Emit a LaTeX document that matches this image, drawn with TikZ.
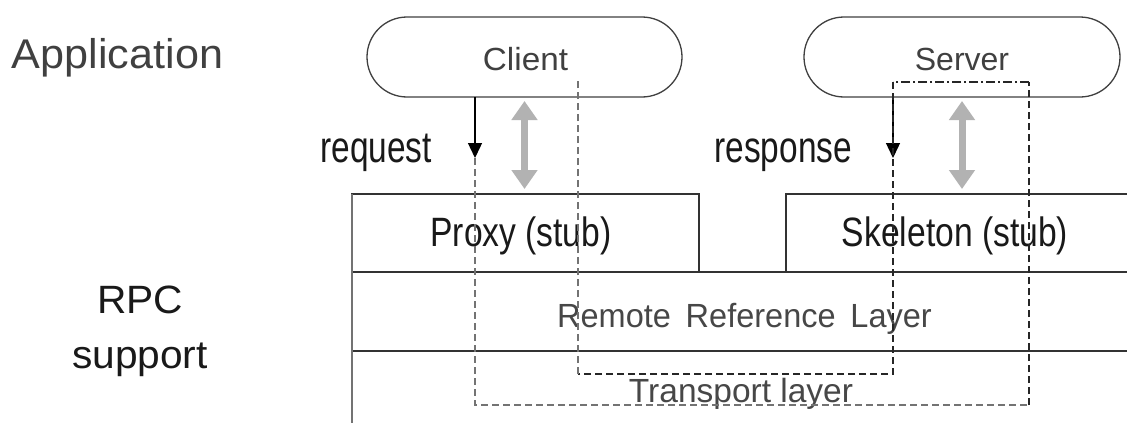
\documentclass[tikz,border=0pt]{standalone}
\usepackage{fontspec}
\setmainfont{Liberation Sans}
\usepackage{graphicx}
\usetikzlibrary{arrows.meta}

% size in pt, horizontal scale, text
\newcommand{\txt}[3]{\fontsize{#1pt}{#1pt}\selectfont\scalebox{#2}[1]{#3}}

\begin{document}
\begin{tikzpicture}[x=1pt,y=-1pt,
  lbl/.style={inner sep=0pt, outer sep=0pt, anchor=base},
  oval/.style={draw=black!75, line width=1.3pt, rounded corners=40pt,
    minimum width=#1, minimum height=80pt, inner sep=0pt, outer sep=0pt},
  layerbox/.style={inner sep=0pt, outer sep=0pt, minimum width=#1},
  rule/.style={draw=black!80, line width=1.6pt},
  callarrow/.style={draw=black, line width=1.4pt, -{Triangle[width=14pt,length=15pt]}},
  pairarrow/.style={draw=black!30, line width=7pt,
    {Triangle[width=25pt,length=19pt]}-{Triangle[width=25pt,length=19pt]}},
  route/.style={line width=1.3pt, dash pattern=on 7pt off 4pt},
  routetop/.style={line width=1.3pt, draw=black!85,
    dash pattern=on 9pt off 3pt on 2pt off 3pt},
]
\fill[white] (0,0) rectangle (1127,423);
\useasboundingbox (0,0) rectangle (1127,423);

% side captions
\node[lbl, anchor=base west, text=black!75] (app) at (12,68) {\txt{41.5}{1.04}{Application}};
\node[lbl, text=black!90] (rpc) at (140,313) {\txt{39.5}{1.03}{RPC}};
\node[lbl, text=black!90] (support) at (140,368) {\txt{39.5}{1.03}{support}};

% application processes
\node[oval=315pt] (client) at (524.5,57) {};
\node[oval=316pt] (server) at (962,57) {};
\node[lbl, text=black!75] (clientname) at (525.5,70) {\txt{32}{1.04}{Client}};
\node[lbl, text=black!75] (servername) at (962,70) {\txt{32}{1.0}{Server}};

% RPC layers
\node[rule, layerbox=347pt, minimum height=78pt] (proxy) at (525.5,233) {};
\node[layerbox=341pt, minimum height=78pt] (skeleton) at (956.5,233) {};
\node[layerbox=775pt, minimum height=79pt] (rrl) at (739.5,311.5) {};
\node[layerbox=775pt, minimum height=72pt] (transport) at (739.5,387) {};

\draw[rule] (skeleton.south west) -- (skeleton.north west) -- (skeleton.north east);
\draw[rule] (rrl.north west) -- (rrl.north east);
\draw[rule] (rrl.south west) -- (rrl.south east);
\draw[draw=black!55, line width=1.8pt] (proxy.north west) -- (transport.south west);

\node[lbl, text=black!90] (proxyname) at (521,246) {\txt{41}{0.82}{Proxy (stub)}};
\node[lbl, text=black!90] (skeletonname) at (955,246) {\txt{41}{0.82}{Skeleton (stub)}};
\node[lbl, text=black!72] (rrlname) at (744.5,327)
  {\txt{33.5}{0.97}{Remote\hspace{6pt} Reference\hspace{6pt} Layer}};
\node[lbl, text=black!72] (transportname) at (741,402) {\txt{33.5}{1.0}{Transport layer}};

% request / response calls
\coordinate (reqtip) at (475,158);
\coordinate (resptip) at (893,158);
\draw[callarrow] (client.south -| reqtip) -- (reqtip);
\draw[callarrow] (server.south -| resptip) -- (resptip);
\node[lbl, anchor=base east, text=black!90] (reqname) at (432,162) {\txt{44}{0.76}{request}};
\node[lbl, anchor=base east, text=black!90] (respname) at (852,162) {\txt{44}{0.76}{response}};

% logical exchange between application and stub
\draw[pairarrow] ([yshift=-4pt]client.south) -- ([yshift=5pt]client.south |- proxy.north);
\draw[pairarrow] ([yshift=-4pt]server.south) -- ([yshift=5pt]server.south |- skeleton.north);

% round trip of a call through the layers
\coordinate (outerSW) at (475,405);
\coordinate (outerSE) at (1029,405);
\coordinate (outerNE) at (1029,82);
\coordinate (innerNE) at (893,82);
\coordinate (innerSE) at (893,374);
\coordinate (innerSW) at (578,374);
\coordinate (innerNW) at (578,80);
\draw[route, draw=black!55] (reqtip) -- (outerSW) -- (outerSE);
\draw[route, draw=black!85] (outerSE) -- (outerNE);
\draw[routetop] (outerNE) -- (innerNE);
\draw[route, draw=black!85] (innerNE) -- (innerSE) -- (innerSW);
\draw[route, draw=black!55] (innerSW) -- (innerNW);
\end{tikzpicture}
\end{document}
